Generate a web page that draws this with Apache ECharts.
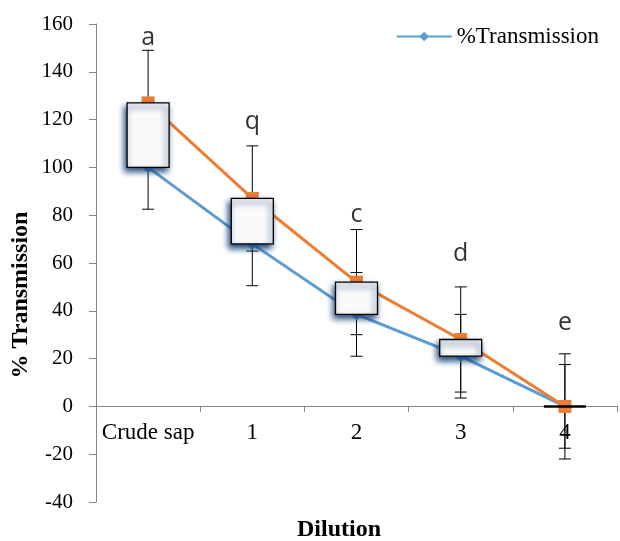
<!DOCTYPE html>
<html>
<head>
<meta charset="utf-8">
<script src="https://cdn.jsdelivr.net/npm/echarts@6/dist/echarts.min.js"></script>
<style>
  html, body { margin: 0; padding: 0; background: #fff; }
  #chart { width: 620px; height: 541px; }
</style>
</head>
<body>
<div id="chart"></div>
<script>
// categories on the x axis
var categories = ['Crude sap', '1', '2', '3', '4'];
// lower line (blue) and upper line (orange)
var blueValues = [100, 68, 38.5, 21, 0];
var orangeValues = [127, 87, 52, 28, 0];
// error bar half widths
var blueErrors = [17.5, 17.5, 17.5, 17.5, 17.5];
var orangeErrors = [22, 22, 22, 22, 22];
// significance letters and their heights
var letters = ['a', 'q', 'c', 'd', 'e'];
var letterValues = [154, 119, 80, 64, 35];

var serif = '"Liberation Serif", "Times New Roman", serif';

var errorData = [];
for (var i = 0; i < categories.length; i++) {
    errorData.push([i, blueValues[i] - blueErrors[i], blueValues[i] + blueErrors[i]]);
    errorData.push([i, orangeValues[i] - orangeErrors[i], orangeValues[i] + orangeErrors[i]]);
}

var boxData = categories.map(function (c, i) {
    return [i, blueValues[i], orangeValues[i]];
});

var letterData = letters.map(function (l, i) {
    return [i, letterValues[i]];
});

var myChart = echarts.init(document.getElementById('chart'));

var option = {
    animation: false,
    grid: { left: 96, right: 3, top: 24, bottom: 39 },
    legend: {
        data: ['%Transmission'],
        right: 16,
        top: 20,
        itemWidth: 55,
        itemHeight: 12,
        itemGap: 6,
        textStyle: { fontFamily: serif, fontSize: 23, color: '#000' }
    },
    graphic: [
        {
            type: 'text',
            x: 21, y: 295,
            rotation: Math.PI / 2,
            style: {
                text: '% Transmission',
                fontFamily: serif, fontSize: 24, fontWeight: 'bold',
                fill: '#000', textAlign: 'center', textVerticalAlign: 'middle'
            }
        },
        {
            type: 'text',
            x: 339, y: 530,
            style: {
                text: 'Dilution',
                fontFamily: serif, fontSize: 24, fontWeight: 'bold',
                fill: '#000', textAlign: 'center', textVerticalAlign: 'middle'
            }
        }
    ],
    xAxis: {
        type: 'category',
        data: categories,
        boundaryGap: true,
        offset: -96,
        axisLine: { onZero: false, lineStyle: { color: '#868686', width: 1 } },
        axisTick: { show: true, interval: 0, length: 6, lineStyle: { color: '#868686' } },
        axisLabel: { interval: 0, fontFamily: serif, fontSize: 23, color: '#000', margin: 15 },
        splitLine: { show: false }
    },
    yAxis: {
        type: 'value',
        min: -40, max: 160, interval: 20,
        axisLine: { show: true, lineStyle: { color: '#868686', width: 1 } },
        axisTick: { show: true, length: 7, lineStyle: { color: '#868686' } },
        axisLabel: { fontFamily: serif, fontSize: 21, color: '#000', margin: 23 },
        splitLine: { show: false }
    },
    series: [
        {
            name: 'errors',
            type: 'custom',
            z: 1,
            data: errorData,
            renderItem: function (params, api) {
                var x = api.value(0);
                var lo = api.coord([x, api.value(1)]);
                var hi = api.coord([x, api.value(2)]);
                var cap = 6;
                var st = { stroke: '#000', lineWidth: 1 };
                return {
                    type: 'group',
                    children: [
                        { type: 'line', shape: { x1: lo[0], y1: lo[1], x2: hi[0], y2: hi[1] }, style: st },
                        { type: 'line', shape: { x1: lo[0] - cap, y1: lo[1], x2: lo[0] + cap, y2: lo[1] }, style: st },
                        { type: 'line', shape: { x1: hi[0] - cap, y1: hi[1], x2: hi[0] + cap, y2: hi[1] }, style: st }
                    ]
                };
            }
        },
        {
            name: '%Transmission',
            type: 'line',
            z: 2,
            data: blueValues,
            symbol: 'diamond',
            symbolSize: 12,
            itemStyle: { color: '#5b9bd5' },
            lineStyle: { color: '#5b9bd5', width: 3 }
        },
        {
            name: 'upper',
            type: 'line',
            z: 3,
            data: orangeValues,
            symbol: 'rect',
            symbolSize: 13,
            itemStyle: { color: '#ed7d31' },
            lineStyle: { color: '#ed7d31', width: 3 }
        },
        {
            name: 'boxes',
            type: 'custom',
            z: 5,
            data: boxData,
            renderItem: function (params, api) {
                var x = api.value(0);
                var low = api.coord([x, api.value(1)]);
                var high = api.coord([x, api.value(2)]);
                var w = 42;
                var h = low[1] - high[1];
                if (h < 1) {
                    return {
                        type: 'line',
                        shape: { x1: low[0] - w / 2, y1: low[1], x2: low[0] + w / 2, y2: low[1] },
                        style: { stroke: '#000', lineWidth: 2.5 }
                    };
                }
                return {
                    type: 'rect',
                    shape: { x: low[0] - w / 2, y: high[1], width: w, height: h },
                    style: {
                        fill: '#f9f9f9',
                        stroke: '#000',
                        lineWidth: 1.3,
                        shadowBlur: 6,
                        shadowColor: 'rgba(20,65,115,1)',
                        shadowOffsetX: -2,
                        shadowOffsetY: 4
                    }
                };
            }
        },
        {
            name: 'letters',
            type: 'scatter',
            z: 6,
            data: letterData,
            symbolSize: 1,
            itemStyle: { color: 'transparent' },
            label: {
                show: true,
                position: 'inside',
                formatter: function (p) { return letters[p.dataIndex]; },
                fontFamily: '"Open Sans", "Liberation Sans", sans-serif',
                fontSize: 25,
                color: '#000'
            }
        }
    ]
};

myChart.setOption(option);
</script>
</body>
</html>
